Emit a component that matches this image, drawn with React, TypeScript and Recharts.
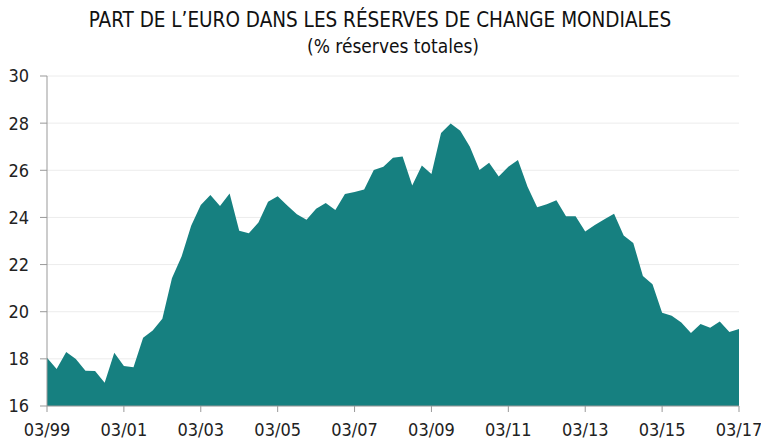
import React from "react";
import { AreaChart, Area, XAxis, YAxis, CartesianGrid } from "recharts";

const quarters: string[] = [
  "03/99","06/99","09/99","12/99",
  "03/00","06/00","09/00","12/00",
  "03/01","06/01","09/01","12/01",
  "03/02","06/02","09/02","12/02",
  "03/03","06/03","09/03","12/03",
  "03/04","06/04","09/04","12/04",
  "03/05","06/05","09/05","12/05",
  "03/06","06/06","09/06","12/06",
  "03/07","06/07","09/07","12/07",
  "03/08","06/08","09/08","12/08",
  "03/09","06/09","09/09","12/09",
  "03/10","06/10","09/10","12/10",
  "03/11","06/11","09/11","12/11",
  "03/12","06/12","09/12","12/12",
  "03/13","06/13","09/13","12/13",
  "03/14","06/14","09/14","12/14",
  "03/15","06/15","09/15","12/15",
  "03/16","06/16","09/16","12/16",
  "03/17",
];

const euroShare: number[] = [
  18.05, 17.57, 18.29, 17.99, 17.5, 17.48, 16.99, 18.26,
  17.7, 17.64, 18.9, 19.2, 19.7, 21.42, 22.34, 23.65,
  24.53, 24.95, 24.49, 25.01, 23.44, 23.33, 23.78, 24.67,
  24.9, 24.51, 24.13, 23.9, 24.37, 24.61, 24.32, 24.99,
  25.08, 25.18, 26.01, 26.15, 26.53, 26.59, 25.35, 26.2,
  25.84, 27.58, 27.98, 27.68, 27.0, 26.01, 26.32, 25.74,
  26.15, 26.44, 25.3, 24.43, 24.56, 24.73, 24.05, 24.05,
  23.4, 23.68, 23.92, 24.16, 23.23, 22.92, 21.52, 21.16,
  19.96, 19.83, 19.54, 19.1, 19.48, 19.32, 19.58, 19.14,
  19.27,
];

const xTicks: string[] = ["03/99","03/01","03/03","03/05","03/07","03/09","03/11","03/13","03/15","03/17"];
const yTicks: number[] = [16, 18, 20, 22, 24, 26, 28, 30];

const title = "PART DE L\u2019EURO DANS LES RÉSERVES DE CHANGE MONDIALES";
const subtitle = "(% réserves totales)";

const data = quarters.map((q, i) => ({ q, v: euroShare[i] }));

const FONT = "'Liberation Sans Narrow', 'DejaVu Sans Condensed', 'Roboto', sans-serif";

export default function App() {
  return (
    <div style={{ position: "absolute", left: 0, top: 0, width: 761, height: 439, background: "#fff", fontFamily: FONT }}>
      <AreaChart width={761} height={439} data={data} margin={{ top: 76, right: 22, bottom: 0, left: 0 }}>
        <CartesianGrid vertical={false} stroke="#ececec" strokeWidth={1} />
        <XAxis
          dataKey="q"
          ticks={xTicks}
          interval={0}
          height={33}
          tickSize={6}
          tickMargin={11}
          stroke="#999"
          tick={{ fill: "#222", fontSize: 18, fontFamily: FONT }}
        />
        <YAxis
          domain={[16, 30]}
          ticks={yTicks}
          width={47}
          tickSize={7}
          tickMargin={11}
          stroke="#999"
          tick={{ fill: "#222", fontSize: 18, fontFamily: FONT }}
        />
        <Area
          type="linear"
          dataKey="v"
          stroke="none"
          fill="#168080"
          fillOpacity={1}
          isAnimationActive={false}
          baseValue={16}
        />
      </AreaChart>
      <svg width={761} height={70} style={{ position: "absolute", left: 0, top: 0, pointerEvents: "none" }}>
        <text x={380} y={27} textAnchor="middle" fontSize={20.5} fill="#111" fontFamily={FONT}>{title}</text>
        <text x={393} y={53} textAnchor="middle" fontSize={19} fill="#111" fontFamily={FONT}>{subtitle}</text>
      </svg>
    </div>
  );
}
